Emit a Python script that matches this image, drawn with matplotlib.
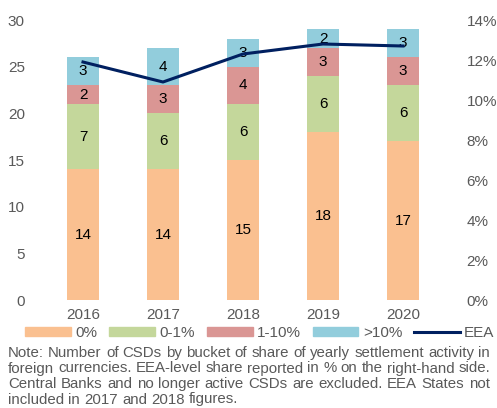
import matplotlib.pyplot as plt
import numpy as np
from matplotlib.patches import Patch
from matplotlib.lines import Line2D

plt.rcParams['font.family'] = ['Liberation Sans', 'DejaVu Sans']

years = ['2016', '2017', '2018', '2019', '2020']
share_0 = [14, 14, 15, 18, 17]
share_0_1 = [7, 6, 6, 6, 6]
share_1_10 = [2, 3, 4, 3, 3]
share_gt10 = [3, 4, 3, 2, 3]
eea_share = [11.9, 10.9, 12.3, 12.8, 12.7]

series = [share_0, share_0_1, share_1_10, share_gt10]
names = ['0%', '0-1%', '1-10%', '>10%']
colors = ['#FAC090', '#C4D79B', '#DA9694', '#92CDDC']
grey = '#595959'

note = ("Note: Number of CSDs by bucket of share of yearly settlement activity in\n"
        "foreign currencies. EEA-level share reported in % on the right-hand side.\n"
        "Central Banks and no longer active CSDs are excluded. EEA States not\n"
        "included in 2017 and 2018 figures.")

fig = plt.figure(figsize=(4.97, 4.08), dpi=100)
ax = fig.add_axes([43 / 497, 108 / 408, 400 / 497, 280 / 408])
x = np.arange(len(years))

bottom = np.zeros(len(years))
for vals, c in zip(series, colors):
    ax.bar(x, vals, 0.4, bottom=bottom, color=c)
    for xi, b, v in zip(x, bottom, vals):
        ax.text(xi, b + v / 2, str(v), ha='center', va='center', fontsize=11, color='black')
    bottom += np.array(vals)

ax.set_ylim(0, 30)
ax.set_xlim(-0.5, 4.5)
ax.set_xticks(x)
ax.set_xticklabels(years)
ax.set_yticks(range(0, 31, 5))
for s in ax.spines.values():
    s.set_visible(False)
ax.tick_params(length=0, labelsize=11, colors=grey, pad=13)
ax.tick_params(axis='x', pad=6)

ax2 = ax.twinx()
ax2.plot(x, eea_share, color='#002060', lw=2.2)
ax2.set_ylim(0, 14)
ax2.set_yticks(range(0, 15, 2))
ax2.set_yticklabels([f'{v}%' for v in range(0, 15, 2)])
for s in ax2.spines.values():
    s.set_visible(False)
ax2.tick_params(length=0, labelsize=11, colors=grey, pad=17)

handles = [Patch(color=c) for c in colors] + [Line2D([], [], color='#002060', lw=2.2)]
leg = fig.legend(handles, names + ['EEA'], loc='center', bbox_to_anchor=(260 / 497, 1 - 333 / 408),
                 ncol=5, frameon=False, fontsize=11, handlelength=3.0, handleheight=0.45,
                 handletextpad=0.3, columnspacing=0.75, borderpad=0)
for t in leg.get_texts():
    t.set_color(grey)

# justified note text, font size chosen so the first line fills the width
fig.canvas.draw()
renderer = fig.canvas.get_renderer()
lines = note.split('\n')
x0, x1 = 8, 490
probe = fig.text(0, 0, lines[0], fontsize=10)
fs = 10 * (x1 - x0) / probe.get_window_extent(renderer).width
probe.remove()
y = 408 - 357
for i, line in enumerate(lines):
    words = line.split(' ')
    texts = [fig.text(0, 0, w, fontsize=fs, color=grey, va='baseline') for w in words]
    widths = [t.get_window_extent(renderer).width for t in texts]
    space = fs * 100 / 72 * 0.278
    if i < len(lines) - 1 and len(words) > 1:
        gap = (x1 - x0 - sum(widths)) / (len(words) - 1)
    else:
        gap = space
    pos = x0
    for t, w in zip(texts, widths):
        t.set_position((pos / 497, y / 408))
        pos += w + gap
    y -= 15.5

fig.savefig('out.png', dpi=100)
